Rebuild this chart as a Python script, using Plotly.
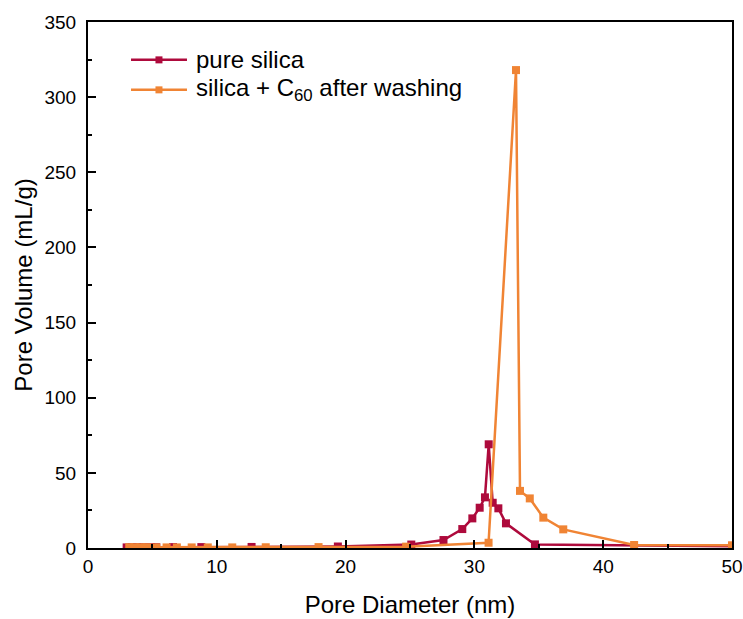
import plotly.graph_objects as go

# Pore size distributions: diameter in nm, volume in mL/g
pure_d = [3.0, 3.4, 3.8, 4.3, 4.9, 5.3, 6.6, 8.8, 12.7, 19.4, 25.1, 27.6, 29.06,
          29.84, 30.41, 30.82, 31.11, 31.42, 31.86, 32.45, 34.7, 50.0]
pure_v = [0.4, 0.4, 0.5, 0.5, 0.5, 0.5, 0.6, 0.6, 0.7, 1.0, 2.3, 5.3, 12.6,
          19.7, 26.8, 33.7, 69.0, 30.1, 26.4, 16.4, 2.4, 1.2]

c60_d = [3.2, 3.6, 4.1, 4.6, 5.3, 6.1, 6.9, 8.05, 9.3, 11.2, 13.8, 17.9, 24.7,
         31.1, 33.23, 33.54, 34.3, 35.35, 36.9, 42.4, 50.0]
c60_v = [0.5, 0.5, 0.5, 0.5, 0.4, 0.4, 0.4, 0.4, 0.4, 0.4, 0.5, 0.6, 0.9,
         3.5, 318.0, 38.0, 33.0, 20.2, 12.4, 2.0, 1.8]

series_names = ["pure silica", "silica + C<sub>60</sub> after washing"]
crimson = "#AE0A3C"
orange = "#F08434"
colors = [crimson, orange]

FONT = "Liberation Sans, Arial, sans-serif"

fig = go.Figure()
for xs, ys, name, col in [(pure_d, pure_v, series_names[0], crimson),
                          (c60_d, c60_v, series_names[1], orange)]:
    fig.add_trace(go.Scatter(
        x=xs, y=ys, mode="lines+markers", name=name, showlegend=False,
        line=dict(color=col, width=2.5),
        marker=dict(symbol="square", size=8, color=col),
    ))

# Legend drawn in paper coordinates: line sample, square marker, label
legend_rows_y = [0.928, 0.871]
line_x0, line_x1, mark_x, text_x = 0.0668, 0.1537, 0.1102, 0.1646
for name, col, ry in zip(series_names, colors, legend_rows_y):
    fig.add_shape(type="line", xref="paper", yref="paper",
                  x0=line_x0, x1=line_x1, y0=ry, y1=ry,
                  line=dict(color=col, width=2.5))
    fig.add_shape(type="rect", xref="paper", yref="paper",
                  xsizemode="pixel", ysizemode="pixel",
                  xanchor=mark_x, yanchor=ry, x0=-3.5, x1=3.5, y0=-3.5, y1=3.5,
                  fillcolor=col, line=dict(width=0))
    fig.add_annotation(xref="paper", yref="paper", x=text_x, y=ry,
                       xanchor="left", yanchor="middle", showarrow=False,
                       text=name, font=dict(family=FONT, size=24, color="black"))

tick_font = dict(family=FONT, size=19, color="black")
title_font = dict(family=FONT, size=24, color="black")

fig.update_layout(
    width=743, height=619,
    margin=dict(l=88, r=11, t=22, b=71),
    paper_bgcolor="white", plot_bgcolor="white",
    showlegend=False,
    xaxis=dict(
        range=[0, 50], dtick=10, tick0=0, automargin=False,
        ticks="inside", ticklen=8, tickwidth=2, tickcolor="black",
        minor=dict(dtick=5, ticks="inside", ticklen=4, tickwidth=2, tickcolor="black"),
        showline=True, linecolor="black", linewidth=2, mirror=True,
        showgrid=False, zeroline=False,
        tickfont=tick_font,
        title=dict(text="Pore Diameter (nm)", font=title_font, standoff=20),
    ),
    yaxis=dict(
        range=[0, 350], dtick=50, tick0=0, automargin=False,
        ticks="inside", ticklen=8, tickwidth=2, tickcolor="black",
        minor=dict(dtick=25, ticks="inside", ticklen=4, tickwidth=2, tickcolor="black"),
        showline=True, linecolor="black", linewidth=2, mirror=True,
        showgrid=False, zeroline=False,
        tickfont=tick_font, ticklabelstandoff=6,
        title=dict(text="Pore Volume (mL/g)", font=title_font, standoff=5),
    ),
)

fig.write_html("out.html")
